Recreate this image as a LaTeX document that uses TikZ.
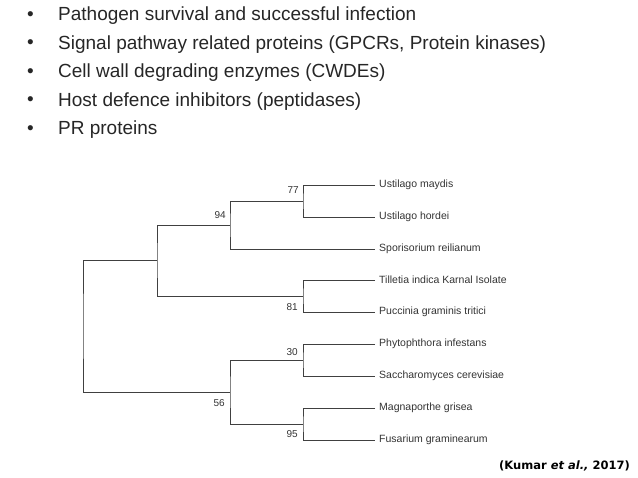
\documentclass[tikz,border=0pt]{standalone}
\usepackage{fontspec}
\setmainfont{Liberation Sans}
\newfontfamily\verd{DejaVu Sans}
\begin{document}
\begin{tikzpicture}[x=1pt,y=-1pt,
  br/.style={draw=black!75,line width=0.9pt},
  leaf/.style={anchor=west,inner sep=0pt,font=\fontsize{10.5}{12}\selectfont,text=black!80},
  bs/.style={anchor=east,inner sep=0pt,font=\fontsize{10}{12}\selectfont,text=black!80},
  bul/.style={anchor=west,inner sep=0pt,font=\fontsize{19}{22}\selectfont,text=black!85}]
\useasboundingbox (0,0) rectangle (638,478);
\foreach \t [count=\i] in {Pathogen survival and successful infection,
  {Signal pathway related proteins (GPCRs, Protein kinases)},
  Cell wall degrading enzymes (CWDEs),
  Host defence inhibitors (peptidases),
  PR proteins}{
  \node[bul] (b\i) at (27,{16+(\i-1)*28.5}) {•};
  \node[bul] (t\i) at (58,{16+(\i-1)*28.5}) {\t};
}
% leaves
\foreach \n/\y/\l in {a/185/Ustilago maydis,b/217/Ustilago hordei,c/249/Sporisorium reilianum,
 d/280/Tilletia indica Karnal Isolate,e/312/Puccinia graminis tritici,f/344/Phytophthora infestans,
 g/376/Saccharomyces cerevisiae,h/408/Magnaporthe grisea,i/440/Fusarium graminearum}{
 \coordinate (e\n) at (375,\y);
 \node[leaf] (l\n) at (379,\y) {\l};
}
\coordinate (n77) at (303,201);
\coordinate (n94) at (230,225);
\coordinate (n81) at (303,296);
\coordinate (nu) at (157,260);
\coordinate (n30) at (303,360);
\coordinate (n95) at (303,424);
\coordinate (n56) at (230,392);
\coordinate (nr) at (83,326);
\draw[br] (ea) -| (n77) |- (eb);
\draw[br] (n77) -| (n94) |- (ec);
\draw[br] (ed) -| (n81) |- (ee);
\draw[br] (n94) -| (nu) |- (n81);
\draw[br] (ef) -| (n30) |- (eg);
\draw[br] (eh) -| (n95) |- (ei);
\draw[br] (n30) -| (n56) |- (n95);
\draw[br] (nu) -| (nr) |- (n56);
\node[bs] (s77) at (299,190) {77};
\node[bs] (s94) at (226,215) {94};
\node[bs] (s81) at (298,307) {81};
\node[bs] (s30) at (298,352) {30};
\node[bs] (s56) at (225,403) {56};
\node[bs] (s95) at (298,434) {95};
\node[anchor=east,inner sep=0pt,font=\verd\bfseries\fontsize{11.5}{13}\selectfont] (cit) at (630,466) {(Kumar \textit{et al.,} 2017)};
\end{tikzpicture}
\end{document}
